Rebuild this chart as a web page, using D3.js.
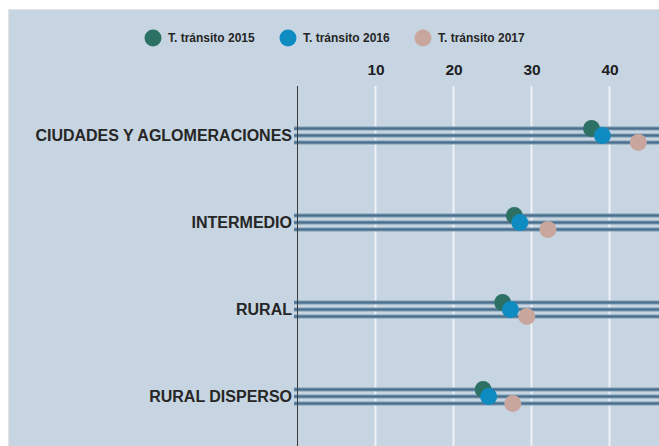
<!DOCTYPE html>
<html>
<head>
<meta charset="utf-8">
<script src="https://cdn.jsdelivr.net/npm/d3@7"></script>
<style>
	body { margin: 0; background: #ffffff; }
	svg text { font-family: "Liberation Sans", Arial, sans-serif; }
</style>
</head>
<body>
<div id="viz-holder"></div>
<script>
// datos
let categorias = ["CIUDADES Y AGLOMERACIONES", "INTERMEDIO", "RURAL", "RURAL DISPERSO"];
let series = ["T. tránsito 2015", "T. tránsito 2016", "T. tránsito 2017"];
let t2015 = [37.7, 27.8, 26.3, 23.8];
let t2016 = [39.1, 28.5, 27.3, 24.5];
let t2017 = [43.7, 32.1, 29.4, 27.6];
let ticks = [10, 20, 30, 40];
let colores = ["#2d7064", "#0e8cc2", "#c9a69d"];

let width = 659;
let height = 446;

let svg = d3.select('#viz-holder')
	.append('svg')
	.attr('width', width)
	.attr('height', height);

svg.append('rect')
	.attr('x', 8.5).attr('y', 9.5)
	.attr('width', width).attr('height', height)
	.attr('fill', '#c6d5e1')
	.attr('stroke', '#e4e4e6');

let x = d3.scaleLinear()
	.domain([0, 40])
	.range([297.5, 609.5]);

let y = d3.scaleBand()
	.domain(categorias)
	.range([92, 440]);

let offset = d3.scalePoint()
	.domain(series)
	.range([-7, 7]);

// rejilla
svg.selectAll('.grid')
	.data(ticks)
	.enter()
	.append('line')
	.attr('class', 'grid')
	.attr('x1', d => x(d)).attr('x2', d => x(d))
	.attr('y1', 86).attr('y2', height)
	.attr('stroke', '#eef2f6')
	.attr('stroke-width', 2);

let xAxis = d3.axisTop(x).tickValues(ticks).tickSize(0);
let gx = svg.append('g')
	.attr('transform', 'translate(0,78)')
	.call(xAxis);
gx.select('.domain').remove();
gx.selectAll('text')
	.attr('font-size', 15.5)
	.attr('font-weight', 'bold')
	.attr('fill', '#1e1e1e');

// lineas por categoria
categorias.forEach(function (c) {
	series.forEach(function (s) {
		let yy = y(c) + y.bandwidth() / 2 + offset(s);
		svg.append('line')
			.attr('x1', 294).attr('x2', width)
			.attr('y1', yy).attr('y2', yy)
			.attr('stroke', '#7f9db4')
			.attr('stroke-width', 4);
		svg.append('line')
			.attr('x1', 294).attr('x2', width)
			.attr('y1', yy).attr('y2', yy)
			.attr('stroke', '#4a6f8d')
			.attr('stroke-width', 2);
	});
});

// eje vertical
svg.append('line')
	.attr('x1', x(0)).attr('x2', x(0))
	.attr('y1', 86).attr('y2', height)
	.attr('stroke', '#3a3a3a')
	.attr('stroke-width', 1);

let yAxis = d3.axisLeft(y).tickSize(0).tickPadding(6);
let gy = svg.append('g')
	.attr('transform', 'translate(' + 298 + ',0)')
	.call(yAxis);
gy.select('.domain').remove();
gy.selectAll('text')
	.attr('font-size', 16)
	.attr('font-weight', 'bold')
	.attr('fill', '#262626');

// puntos
let valores = [t2015, t2016, t2017];
series.forEach(function (s, i) {
	svg.selectAll('.dot' + i)
		.data(categorias)
		.enter()
		.append('circle')
		.attr('class', 'dot' + i)
		.attr('cx', (d, j) => x(valores[i][j]))
		.attr('cy', d => y(d) + y.bandwidth() / 2 + offset(s))
		.attr('r', 8.5)
		.attr('fill', colores[i]);
});

// leyenda
let legendX = [153, 288, 423];
let legend = svg.selectAll('.legend')
	.data(series)
	.enter()
	.append('g')
	.attr('class', 'legend')
	.attr('transform', (d, i) => 'translate(' + legendX[i] + ',38)');
legend.append('circle')
	.attr('r', 8.5)
	.attr('fill', (d, i) => colores[i]);
legend.append('text')
	.attr('x', 15)
	.attr('dy', '0.35em')
	.attr('font-size', 12)
	.attr('font-weight', 'bold')
	.attr('fill', '#262626')
	.text(d => d);
</script>
</body>
</html>
